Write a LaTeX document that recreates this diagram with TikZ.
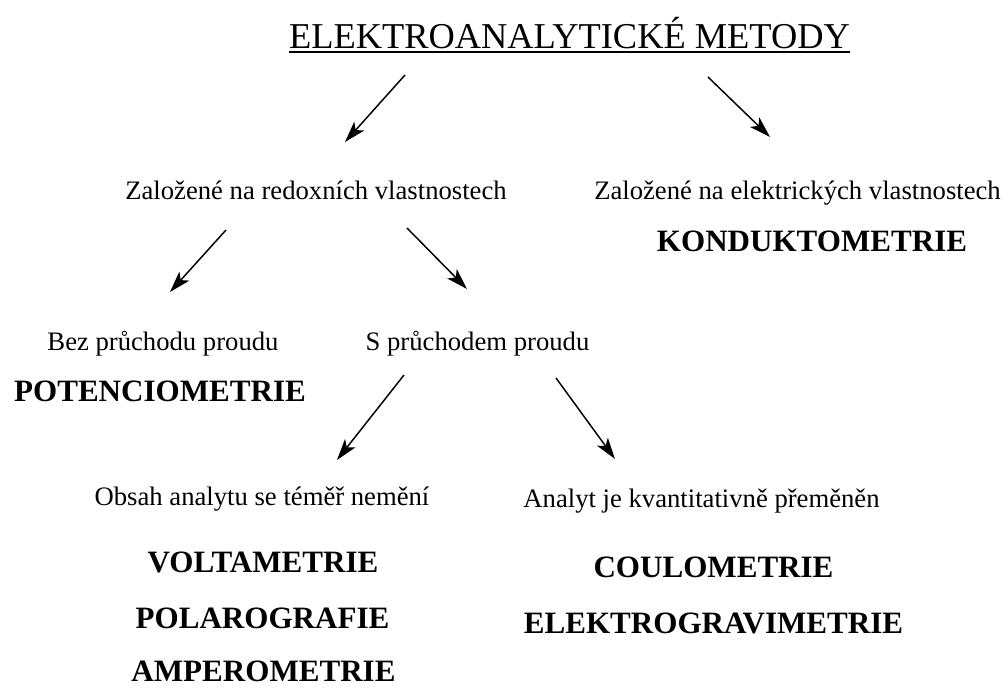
\documentclass[tikz,border=0pt]{standalone}
\usepackage{fontspec}
\setmainfont{Liberation Serif}
\usetikzlibrary{arrows.meta,calc}

\begin{document}
\begin{tikzpicture}[x=0.75pt,y=-0.75pt,
    txt/.style={inner sep=0pt, anchor=base, font=\fontsize{20}{24}\selectfont},
    meth/.style={inner sep=0pt, anchor=base, font=\fontsize{23.3}{28}\selectfont\bfseries},
    arr/.style={line width=1.1pt, -{Stealth[length=16pt,width=10pt,inset=4pt]}}]
    \useasboundingbox (0,0) rectangle (1008,689);

    % Title
    \node[inner sep=0pt, anchor=base, font=\fontsize{27.3}{32}\selectfont] (title) at (569.5,48) {ELEKTROANALYTICKÉ METODY};
    \draw[line width=1.3pt] ($(title.base west)+(0,4)$) -- ($(title.base east)+(0,4)$);

    % First level
    \node[txt] (redox) at (316,199) {Založené na redoxních vlastnostech};
    \node[txt] (elek) at (797.5,199) {Založené na elektrických vlastnostech};
    \node[meth] (kond) at (812,251) {KONDUKTOMETRIE};

    % Second level
    \node[txt] (bez) at (163,350) {Bez průchodu proudu};
    \node[txt] (spru) at (477.5,350) {S průchodem proudu};
    \node[meth] (poten) at (160,401) {POTENCIOMETRIE};

    % Third level
    \node[txt] (obsah) at (262,505) {Obsah analytu se téměř nemění};
    \node[txt] (analyt) at (701.5,507) {Analyt je kvantitativně přeměněn};
    \node[meth] (volt) at (263,572) {VOLTAMETRIE};
    \node[meth] (polar) at (262.5,628) {POLAROGRAFIE};
    \node[meth] (amper) at (263.5,681) {AMPEROMETRIE};
    \node[meth] (coul) at (713.5,577) {COULOMETRIE};
    \node[meth] (elgrav) at (713.5,633) {ELEKTROGRAVIMETRIE};

    % Arrows
    \draw[arr] ($(title.base)+(-164.5,27)$) -- ($(redox.base)+(29,-57)$);
    \draw[arr] ($(title.base)+(138.5,29)$) -- ($(elek.base)+(-27.5,-62)$);
    \draw[arr] ($(redox.base)+(-90,31)$) -- ($(bez.base)+(7,-58)$);
    \draw[arr] ($(redox.base)+(91,29)$) -- ($(spru.base)+(-10.5,-61)$);
    \draw[arr] ($(spru.base)+(-73.5,25)$) -- ($(obsah.base)+(75,-45)$);
    \draw[arr] ($(spru.base)+(78.5,28)$) -- ($(analyt.base)+(-86.5,-48)$);
\end{tikzpicture}
\end{document}
